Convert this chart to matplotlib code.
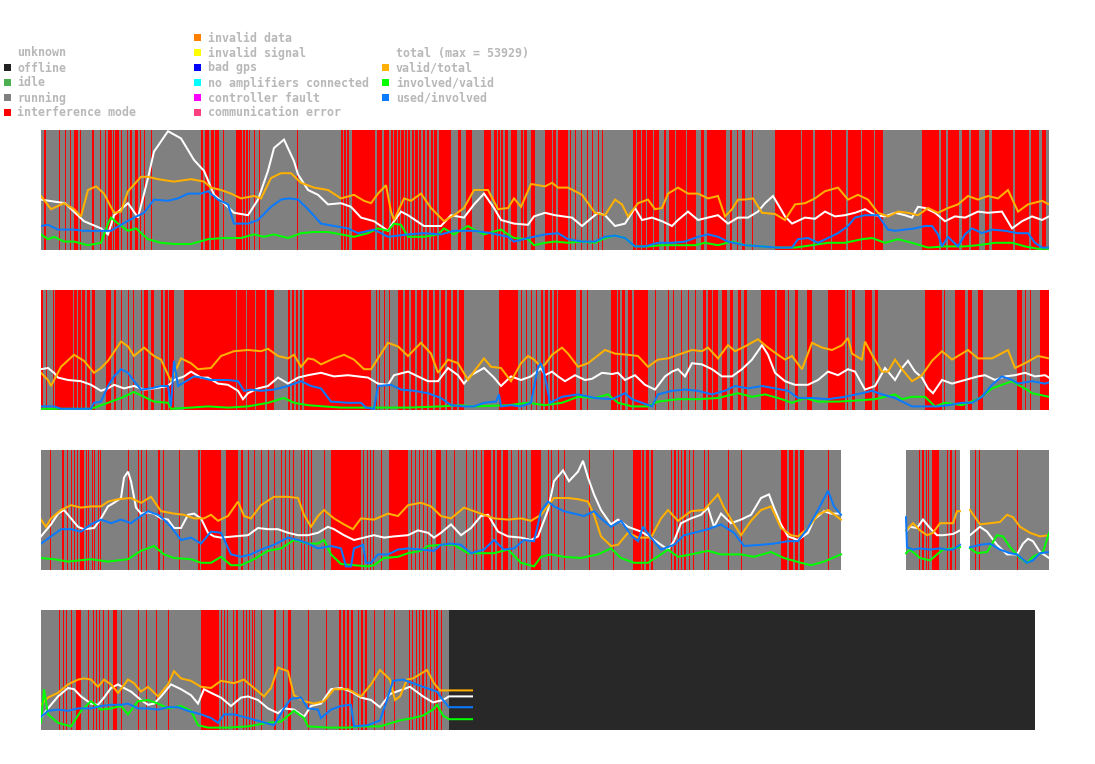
import numpy as np
import matplotlib
matplotlib.use('Agg')
import matplotlib.pyplot as plt
from matplotlib.patches import Rectangle

# ---- data (x = sample offset inside a strip, y = percent) ----

S1_TOTAL = [(0, 42), (24, 39), (43, 24), (60, 18), (67, 13), (73, 29), (87, 39), (97, 27), (107, 60), (113, 82),
            (127, 99), (140, 93), (153, 75), (163, 66), (173, 46), (183, 39), (193, 31), (207, 29), (217, 42),
            (227, 66), (233, 85), (243, 92), (253, 74), (257, 63), (267, 50), (277, 46), (287, 38), (300, 39),
            (310, 36), (320, 27), (333, 24), (347, 16), (353, 24), (360, 32), (367, 29), (383, 20), (400, 20),
            (410, 29), (423, 27), (433, 38), (443, 47), (453, 35), (460, 25), (473, 22), (487, 21), (493, 28),
            (504, 31), (514, 29), (531, 27), (541, 20), (551, 27), (557, 31), (564, 29), (574, 20), (584, 22),
            (594, 35), (601, 25), (611, 27), (621, 24), (631, 20), (637, 25), (647, 32), (657, 25), (667, 27),
            (677, 29), (687, 22), (697, 27), (707, 27), (717, 32), (724, 39), (732, 45), (737, 38), (744, 28),
            (751, 22), (764, 27), (774, 26), (784, 32), (794, 28), (804, 29), (814, 31), (824, 34), (834, 29),
            (844, 28), (854, 31), (864, 29), (871, 27), (877, 36), (884, 35), (894, 31), (904, 24), (914, 28),
            (924, 27), (937, 32), (947, 31), (961, 32), (971, 18), (981, 24), (991, 28), (1001, 25), (1008, 28)]
S1_VALID = [(0, 45), (10, 34), (23, 39), (33, 34), (40, 28), (47, 50), (55, 53), (63, 47), (73, 31), (80, 32),
            (87, 49), (100, 61), (107, 61), (117, 59), (133, 57), (150, 59), (163, 57), (170, 52), (180, 50),
            (190, 47), (200, 43), (213, 45), (220, 43), (230, 60), (240, 64), (250, 64), (260, 56), (273, 52),
            (287, 50), (300, 43), (313, 46), (323, 41), (330, 39), (337, 47), (345, 54), (350, 32), (353, 25),
            (363, 43), (370, 41), (380, 47), (390, 35), (403, 24), (413, 29), (423, 35), (433, 50), (447, 50),
            (457, 34), (467, 35), (473, 43), (480, 36), (490, 55), (504, 53), (511, 56), (517, 52), (527, 52),
            (534, 49), (541, 46), (554, 31), (564, 29), (574, 42), (581, 38), (587, 28), (597, 39), (607, 42),
            (614, 34), (621, 35), (627, 47), (637, 52), (647, 47), (657, 47), (667, 43), (677, 45), (684, 28),
            (691, 34), (697, 42), (704, 42), (712, 43), (721, 31), (734, 30), (744, 25), (754, 38), (764, 39),
            (774, 43), (784, 49), (797, 52), (807, 42), (817, 46), (827, 42), (837, 31), (847, 28), (857, 32),
            (867, 31), (877, 29), (887, 35), (897, 31), (907, 35), (917, 38), (927, 45), (937, 42), (947, 45),
            (957, 43), (967, 50), (977, 32), (987, 38), (1001, 41), (1008, 38)]
S1_INVOLVED = [(0, 13), (7, 9), (13, 11), (23, 7), (33, 7), (47, 4), (60, 6), (67, 22), (70, 27), (77, 22),
               (87, 16), (95, 18), (107, 9), (120, 6), (133, 5), (150, 5), (167, 9), (183, 10), (200, 10),
               (213, 13), (223, 11), (233, 13), (247, 10), (260, 14), (273, 15), (287, 15), (300, 13), (313, 11),
               (327, 14), (337, 18), (347, 16), (353, 22), (360, 21), (367, 11), (383, 11), (397, 13), (403, 18),
               (413, 13), (427, 20), (433, 17), (443, 13), (460, 17), (467, 13), (473, 10), (487, 9), (493, 4),
               (504, 6), (514, 7), (527, 6), (541, 7), (554, 6), (564, 10), (574, 12), (584, 10), (594, 3),
               (607, 3), (621, 4), (637, 4), (654, 4), (664, 6), (677, 4), (691, 7), (704, 4), (721, 3), (737, 2),
               (754, 2), (771, 4), (787, 6), (804, 6), (821, 9), (831, 10), (844, 6), (857, 9), (871, 6),
               (887, 2), (904, 3), (924, 3), (937, 4), (954, 6), (971, 6), (984, 3), (997, 1), (1008, 1)]
S1_USED = [(0, 20), (7, 21), (17, 17), (33, 17), (43, 16), (57, 16), (70, 16), (80, 21), (93, 27), (103, 31),
           (113, 42), (127, 41), (137, 43), (147, 47), (160, 47), (167, 49), (177, 42), (187, 38), (193, 22),
           (207, 22), (217, 25), (230, 36), (240, 42), (248, 43), (257, 42), (267, 34), (280, 22), (293, 20),
           (307, 18), (317, 14), (333, 17), (347, 11), (367, 13), (383, 14), (400, 13), (413, 16), (433, 16),
           (450, 14), (467, 11), (473, 7), (487, 10), (504, 13), (517, 14), (527, 9), (541, 7), (554, 7),
           (564, 11), (574, 12), (584, 10), (594, 3), (604, 3), (617, 6), (631, 6), (644, 7), (657, 11),
           (667, 13), (677, 11), (687, 7), (704, 4), (721, 3), (737, 2), (751, 2), (757, 9), (767, 10), (777, 6),
           (787, 10), (797, 14), (807, 20), (814, 27), (824, 29), (837, 29), (847, 17), (854, 16), (864, 17),
           (874, 18), (884, 20), (891, 20), (897, 13), (901, 3), (907, 11), (917, 3), (924, 13), (931, 18),
           (941, 14), (951, 17), (964, 16), (977, 14), (987, 14), (994, 6), (1001, 2), (1008, 2)]

S2_TOTAL = [(0, 34), (7, 35), (13, 31), (17, 27), (27, 25), (40, 24), (50, 21), (60, 16), (67, 18), (73, 21),
            (83, 18), (93, 20), (103, 17), (113, 18), (127, 20), (133, 25), (143, 28), (150, 32), (160, 27),
            (167, 27), (177, 22), (187, 21), (197, 16), (202, 9), (207, 14), (217, 18), (227, 20), (237, 27),
            (247, 22), (257, 27), (267, 29), (280, 31), (293, 28), (307, 29), (317, 28), (327, 27), (337, 22),
            (347, 21), (353, 29), (367, 32), (377, 28), (387, 24), (397, 24), (407, 35), (417, 29), (423, 22),
            (430, 29), (443, 35), (453, 27), (460, 20), (470, 28), (480, 25), (490, 28), (500, 35), (504, 29),
            (511, 32), (517, 28), (524, 24), (534, 29), (544, 25), (551, 26), (561, 31), (571, 30), (577, 31),
            (584, 25), (594, 29), (604, 21), (614, 17), (624, 28), (631, 32), (637, 34), (644, 28), (651, 39),
            (661, 38), (671, 34), (681, 28), (691, 28), (701, 34), (711, 42), (721, 54), (727, 46), (734, 31),
            (744, 24), (754, 21), (767, 21), (777, 25), (787, 32), (797, 29), (807, 34), (814, 32), (824, 17),
            (834, 20), (844, 35), (854, 25), (861, 35), (867, 41), (874, 32), (881, 27), (887, 18), (892, 14),
            (901, 25), (911, 22), (924, 25), (937, 28), (944, 29), (954, 25), (964, 28), (974, 29), (984, 31),
            (994, 28), (1004, 29), (1008, 27)]
S2_VALID = [(0, 31), (7, 25), (10, 20), (20, 36), (33, 46), (43, 41), (53, 31), (60, 35), (67, 41), (80, 57),
            (87, 53), (93, 45), (103, 52), (113, 45), (120, 42), (130, 24), (140, 43), (150, 39), (157, 34),
            (170, 35), (180, 45), (193, 49), (207, 50), (220, 49), (227, 51), (237, 45), (247, 43), (253, 46),
            (260, 36), (267, 43), (273, 42), (280, 38), (293, 43), (303, 46), (313, 42), (323, 34), (330, 34),
            (337, 43), (347, 56), (357, 53), (367, 45), (380, 56), (390, 47), (397, 31), (407, 42), (417, 39),
            (427, 25), (433, 32), (443, 43), (450, 36), (460, 35), (470, 24), (480, 39), (487, 45), (493, 42),
            (500, 36), (504, 38), (511, 46), (521, 52), (527, 47), (537, 36), (547, 39), (564, 50), (574, 47),
            (587, 46), (597, 45), (607, 36), (617, 42), (627, 43), (637, 46), (651, 50), (661, 49), (667, 52),
            (677, 43), (687, 54), (694, 49), (704, 53), (717, 59), (727, 52), (737, 46), (744, 42), (751, 45),
            (761, 34), (771, 56), (781, 52), (791, 50), (801, 54), (807, 60), (811, 47), (821, 42), (824, 57),
            (831, 46), (841, 32), (847, 32), (854, 42), (861, 34), (871, 24), (881, 29), (891, 41), (901, 49),
            (911, 42), (927, 50), (937, 43), (951, 43), (967, 50), (974, 35), (984, 39), (997, 45), (1008, 43)]
S2_INVOLVED = [(0, 1), (50, 1), (57, 3), (67, 6), (80, 10), (93, 15), (103, 11), (113, 7), (127, 6), (130, 1),
               (150, 2), (167, 3), (187, 2), (207, 3), (227, 6), (243, 10), (253, 6), (267, 4), (283, 3),
               (300, 2), (333, 2), (367, 2), (400, 3), (420, 4), (433, 3), (467, 4), (487, 6), (504, 4),
               (521, 6), (537, 11), (554, 10), (567, 13), (577, 6), (591, 3), (607, 3), (617, 7), (637, 9),
               (657, 9), (677, 10), (697, 14), (711, 11), (724, 13), (737, 10), (751, 6), (764, 10), (777, 7),
               (797, 7), (817, 8), (834, 9), (854, 13), (861, 9), (871, 11), (884, 11), (894, 3), (904, 6),
               (921, 4), (937, 9), (951, 18), (961, 21), (971, 24), (977, 21), (984, 18), (991, 14), (1008, 11)]
S2_USED = [(0, 3), (13, 3), (20, 1), (50, 1), (53, 6), (60, 7), (67, 20), (73, 28), (80, 34), (87, 31), (93, 24),
           (100, 17), (110, 18), (120, 20), (127, 20), (130, 3), (133, 41), (137, 20), (147, 25), (153, 28),
           (160, 27), (170, 25), (187, 25), (197, 24), (203, 16), (210, 17), (220, 16), (233, 17), (247, 20),
           (260, 24), (270, 20), (280, 18), (290, 7), (307, 6), (320, 6), (325, 2), (333, 1), (337, 20),
           (350, 21), (360, 17), (373, 16), (387, 14), (400, 10), (410, 4), (423, 3), (433, 3), (443, 6),
           (455, 7), (458, 13), (460, 3), (470, 4), (480, 3), (490, 6), (497, 36), (500, 39), (504, 28),
           (509, 6), (521, 11), (537, 13), (554, 10), (571, 9), (584, 14), (591, 9), (601, 6), (611, 3),
           (617, 13), (631, 16), (644, 17), (657, 16), (671, 13), (684, 16), (694, 20), (707, 18), (721, 20),
           (734, 18), (747, 16), (757, 10), (771, 10), (787, 9), (804, 11), (821, 14), (831, 16), (841, 13),
           (854, 10), (871, 3), (887, 3), (897, 3), (907, 4), (921, 6), (931, 6), (941, 11), (951, 21),
           (961, 28), (971, 25), (977, 22), (991, 24), (1004, 22), (1008, 23)]

S3_TOTAL = [(0, 28), (10, 38), (17, 47), (23, 50), (30, 43), (37, 36), (43, 34), (53, 35), (60, 43), (67, 53),
            (73, 56), (80, 60), (83, 77), (87, 82), (90, 74), (95, 52), (100, 47), (107, 48), (113, 47),
            (120, 43), (127, 42), (133, 35), (140, 35), (147, 46), (153, 47), (160, 43), (167, 31), (173, 28),
            (180, 27), (193, 28), (207, 29), (217, 35), (227, 34), (237, 34), (247, 31), (257, 29), (267, 29),
            (277, 31), (287, 36), (293, 34), (303, 29), (313, 25), (323, 27), (333, 29), (343, 27), (353, 28),
            (367, 29), (377, 33), (387, 31), (393, 27), (400, 31), (410, 38), (420, 29), (430, 35), (440, 45),
            (447, 46), (457, 32), (467, 28), (480, 27), (490, 25), (497, 28), (507, 50), (513, 74), (522, 83),
            (528, 74), (537, 82), (542, 91), (547, 77), (553, 63), (560, 50), (570, 38), (577, 42), (587, 36),
            (600, 32), (610, 27), (620, 21), (627, 17), (633, 24), (640, 39), (650, 43), (660, 46), (667, 52),
            (673, 36), (680, 47), (690, 39), (700, 42), (710, 46), (720, 60), (728, 63), (733, 52), (740, 38),
            (747, 28), (757, 25), (767, 31), (773, 42), (783, 49), (790, 47), (800, 47),
            (865, 32), (869, 36), (876, 35), (882, 42), (889, 35), (896, 29), (902, 29), (912, 30), (919, 33),
            (929, 29), (939, 36), (946, 32), (956, 21), (966, 13), (976, 13), (982, 22), (987, 26), (992, 24),
            (999, 15), (1008, 10)]
S3_VALID = [(0, 42), (5, 36), (10, 43), (20, 50), (30, 54), (40, 52), (50, 53), (60, 53), (67, 57), (77, 59),
            (90, 60), (100, 56), (110, 61), (120, 49), (133, 47), (143, 46), (153, 43), (163, 43), (170, 46),
            (177, 41), (187, 45), (197, 57), (203, 45), (210, 43), (220, 54), (233, 61), (247, 61), (257, 60),
            (263, 46), (270, 36), (277, 45), (283, 50), (293, 43), (303, 38), (312, 34), (320, 43), (333, 42),
            (347, 47), (357, 45), (367, 54), (380, 56), (390, 53), (400, 45), (410, 43), (423, 52), (433, 49),
            (443, 46), (453, 43), (467, 42), (480, 43), (490, 41), (500, 46), (513, 60), (527, 60), (537, 59),
            (547, 57), (553, 46), (560, 28), (570, 20), (577, 21), (587, 31), (597, 27), (610, 27), (620, 43),
            (627, 50), (637, 41), (650, 49), (663, 50), (677, 63), (683, 52), (693, 38), (700, 29), (710, 41),
            (720, 50), (730, 53), (740, 35), (750, 29), (757, 28), (767, 35), (777, 46), (787, 50), (800, 42),
            (865, 33), (872, 39), (879, 33), (886, 29), (892, 31), (899, 39), (906, 39), (912, 39), (916, 49),
            (919, 49), (929, 50), (939, 38), (949, 39), (959, 40), (966, 46), (972, 44), (979, 36), (989, 31),
            (999, 28), (1008, 29)]
S3_INVOLVED = [(0, 10), (13, 9), (27, 7), (50, 9), (67, 7), (87, 9), (100, 16), (113, 20), (123, 13), (133, 10),
               (150, 9), (160, 6), (170, 6), (180, 11), (190, 4), (200, 4), (213, 9), (227, 16), (240, 18),
               (253, 25), (267, 22), (277, 22), (283, 25), (290, 13), (300, 5), (313, 4), (327, 3), (333, 4),
               (343, 10), (357, 11), (367, 14), (380, 16), (387, 20), (400, 21), (413, 21), (427, 14), (440, 14),
               (453, 14), (467, 17), (480, 6), (493, 3), (500, 11), (510, 13), (523, 11), (540, 10), (557, 13),
               (570, 18), (580, 10), (593, 6), (607, 6), (620, 13), (627, 17), (637, 11), (650, 13), (667, 16),
               (680, 13), (700, 13), (713, 11), (730, 15), (743, 10), (760, 6), (770, 4), (783, 7), (800, 13),
               (865, 14), (869, 17), (879, 10), (889, 8), (896, 13), (902, 17), (912, 18), (919, 19),
               (929, 18), (936, 14), (946, 15), (956, 29), (962, 28), (969, 19), (979, 10), (986, 6), (992, 11),
               (1002, 15), (1008, 31)]
S3_USED = [(0, 22), (10, 28), (20, 34), (30, 34), (40, 32), (50, 38), (60, 42), (70, 39), (80, 42), (90, 39),
           (100, 45), (107, 49), (117, 46), (123, 42), (130, 36), (140, 25), (150, 27), (160, 22), (170, 32),
           (180, 31), (190, 13), (200, 11), (210, 13), (220, 17), (233, 21), (247, 27), (257, 25), (267, 22),
           (277, 18), (290, 20), (300, 18), (305, 3), (310, 3), (313, 18), (322, 21), (325, 6), (330, 6),
           (337, 13), (347, 13), (357, 17), (367, 18), (380, 17), (393, 16), (400, 21), (410, 22), (420, 21),
           (430, 14), (443, 17), (453, 25), (463, 17), (473, 18), (483, 25), (493, 24), (495, 31), (500, 49),
           (507, 57), (513, 53), (523, 49), (533, 47), (543, 45), (553, 49), (560, 43), (570, 36), (580, 41),
           (590, 29), (597, 24), (602, 36), (610, 27), (620, 17), (633, 21), (643, 29), (653, 31), (667, 34),
           (680, 38), (693, 31), (703, 20), (720, 21), (733, 22), (747, 24), (757, 24), (767, 35), (777, 50),
           (787, 66), (793, 53), (800, 46),
           (865, 44), (866, 19), (872, 17), (879, 18), (889, 17), (899, 18), (906, 17), (912, 17), (919, 21),
           (929, 19), (939, 21), (949, 22), (959, 17), (969, 14), (976, 13), (986, 6), (992, 8), (999, 14),
           (1008, 15)]

S4_TOTAL = [(0, 10), (7, 18), (17, 28), (27, 35), (33, 34), (40, 28), (50, 22), (57, 21), (63, 27), (70, 35),
            (77, 38), (83, 35), (90, 32), (100, 25), (107, 21), (113, 22), (120, 28), (130, 38), (140, 34),
            (150, 29), (157, 22), (163, 34), (170, 31), (180, 27), (190, 20), (200, 27), (207, 28), (217, 25),
            (227, 18), (237, 14), (243, 18), (253, 17), (263, 11), (270, 20), (280, 22), (290, 34), (300, 35),
            (310, 32), (320, 27), (330, 25), (339, 19), (349, 30), (359, 33), (369, 36), (382, 28), (392, 23),
            (402, 25), (408, 28), (431, 28)]
S4_VALID = [(0, 21), (7, 27), (17, 31), (27, 38), (37, 42), (43, 43), (50, 42), (57, 36), (63, 42), (70, 38),
            (77, 31), (87, 42), (93, 39), (100, 32), (107, 36), (117, 28), (127, 38), (133, 49), (140, 43),
            (150, 41), (160, 36), (170, 35), (180, 41), (193, 39), (203, 42), (213, 35), (223, 28), (230, 35),
            (237, 52), (247, 49), (253, 29), (263, 24), (273, 22), (283, 24), (293, 34), (307, 34), (320, 28),
            (330, 38), (339, 50), (349, 42), (354, 25), (359, 28), (366, 42), (372, 43), (386, 50), (393, 39),
            (399, 33), (408, 33), (431, 33)]
S4_INVOLVED = [(0, 6), (3, 34), (7, 13), (17, 6), (30, 3), (40, 16), (50, 24), (60, 17), (70, 18), (80, 20),
               (87, 13), (97, 24), (107, 25), (117, 22), (127, 18), (140, 20), (150, 16), (157, 4), (167, 2),
               (187, 2), (207, 3), (227, 6), (240, 7), (253, 16), (263, 10), (267, 3), (287, 2), (307, 2),
               (320, 3), (339, 3), (359, 8), (372, 10), (382, 12), (392, 17), (396, 21), (402, 12), (408, 9),
               (431, 9)]
S4_USED = [(0, 11), (7, 16), (17, 17), (27, 16), (37, 18), (50, 18), (60, 20), (70, 21), (80, 21), (87, 22),
           (97, 18), (107, 18), (117, 17), (127, 19), (137, 19), (147, 16), (160, 13), (170, 10), (177, 6),
           (183, 13), (193, 13), (207, 10), (220, 7), (233, 4), (243, 18), (250, 26), (260, 27), (267, 18),
           (277, 17), (280, 10), (290, 17), (300, 20), (310, 21), (313, 3), (327, 4), (339, 8), (346, 25),
           (352, 41), (362, 42), (372, 39), (382, 36), (396, 32), (402, 25), (408, 19), (431, 19)]

# interference mode intervals (start, end)
S1_INTERF = [(3, 5), (18, 19), (24, 25), (29, 30), (33, 37), (39, 40), (51, 53), (59, 60), (64, 65), (67, 71),
             (72, 73), (74, 78), (80, 81), (86, 87), (89, 91), (94, 97), (99, 100), (103, 104), (110, 111),
             (160, 162), (164, 168), (170, 173), (174, 178), (182, 183), (195, 201), (202, 204), (205, 207),
             (208, 209), (213, 214), (218, 219), (256, 257), (300, 302), (303, 305), (306, 308), (311, 334),
             (336, 341), (343, 348), (350, 352), (353, 356), (357, 359), (360, 363), (364, 366), (367, 369),
             (371, 373), (374, 377), (378, 380), (382, 384), (386, 388), (390, 392), (393, 396), (398, 410),
             (417, 420), (425, 431), (443, 450), (453, 456), (457, 459), (460, 462), (464, 467), (470, 476),
             (480, 482), (483, 486), (490, 494), (504, 511), (512, 515), (517, 527), (529, 530), (534, 535),
             (540, 541), (546, 547), (551, 552), (557, 558), (561, 562), (592, 595), (596, 600), (601, 605),
             (606, 612), (613, 618), (623, 625), (628, 634), (635, 645), (646, 655), (660, 663), (666, 685),
             (689, 691), (696, 697), (701, 704), (711, 712), (734, 760), (761, 772), (774, 790), (791, 805),
             (807, 820), (821, 833), (834, 842), (881, 898), (900, 905), (907, 918), (921, 928), (930, 938),
             (944, 948), (951, 972), (974, 988), (990, 998), (1001, 1005)]
S2_INTERF = [(0, 2), (5, 6), (12, 13), (14, 32), (33, 36), (37, 40), (41, 44), (46, 49), (51, 54), (65, 70),
             (73, 75), (80, 81), (87, 88), (92, 93), (100, 101), (103, 107), (110, 113), (120, 122), (124, 127),
             (128, 133), (143, 195), (196, 205), (206, 214), (215, 224), (226, 233), (247, 249), (251, 253),
             (255, 257), (259, 261), (263, 330), (335, 336), (338, 339), (343, 344), (348, 349), (357, 362),
             (364, 368), (370, 374), (376, 380), (382, 386), (388, 392), (394, 398), (400, 404), (406, 410),
             (412, 416), (418, 423), (458, 477), (480, 481), (485, 486), (490, 491), (495, 496), (500, 502),
             (504, 507), (509, 511), (513, 516), (517, 535), (539, 541), (546, 547), (570, 576), (577, 579),
             (581, 584), (587, 591), (593, 607), (614, 615), (627, 628), (632, 633), (640, 641), (647, 648),
             (654, 655), (662, 665), (667, 671), (672, 677), (681, 686), (689, 692), (697, 700), (703, 706),
             (720, 734), (736, 744), (747, 748), (754, 757), (766, 771), (787, 804), (806, 807), (811, 814),
             (824, 831), (834, 837), (884, 901), (903, 904), (914, 924), (927, 931), (937, 942), (976, 981),
             (984, 985), (989, 990), (999, 1008)]
S3_INTERF = [(9, 10), (21, 23), (26, 27), (30, 31), (33, 34), (36, 37), (39, 43), (45, 46), (47, 48), (51, 52),
             (53, 54), (57, 58), (59, 60), (87, 88), (97, 98), (100, 101), (105, 106), (117, 119), (122, 123),
             (138, 139), (157, 159), (160, 180), (185, 197), (200, 202), (207, 208), (213, 214), (220, 221),
             (227, 228), (233, 234), (240, 241), (244, 245), (248, 249), (252, 253), (260, 261), (263, 264),
             (267, 268), (270, 271), (283, 284), (290, 320), (322, 323), (326, 327), (329, 330), (332, 333),
             (340, 341), (348, 367), (370, 371), (374, 375), (378, 379), (382, 383), (386, 387), (390, 391),
             (395, 400), (405, 406), (413, 414), (425, 426), (432, 433), (435, 436), (440, 441), (443, 450),
             (452, 454), (456, 460), (462, 467), (470, 471), (477, 478), (480, 481), (485, 486), (490, 500),
             (507, 508), (510, 511), (517, 518), (523, 524), (548, 549), (572, 573), (592, 600), (601, 603),
             (605, 608), (610, 612), (630, 631), (633, 635), (637, 638), (640, 641), (643, 645), (648, 649),
             (652, 653), (663, 664), (667, 668), (687, 688), (700, 701), (740, 746), (748, 752), (754, 757),
             (759, 763), (787, 788), (878, 879), (881, 883), (885, 886), (887, 888), (891, 898), (906, 907),
             (909, 911), (914, 915), (934, 935), (938, 939), (976, 977)]
S4_INTERF = [(18, 19), (22, 23), (25, 26), (30, 31), (35, 40), (47, 48), (52, 53), (55, 56), (58, 59), (62, 63),
             (67, 68), (72, 76), (80, 81), (97, 98), (105, 106), (115, 116), (127, 128), (160, 178), (180, 181),
             (183, 184), (186, 187), (192, 193), (195, 197), (202, 203), (205, 206), (208, 209), (211, 212),
             (213, 214), (220, 221), (233, 235), (242, 243), (247, 250), (267, 268), (285, 286), (298, 300),
             (302, 304), (306, 308), (310, 312), (317, 318), (320, 322), (324, 326), (333, 334), (343, 344),
             (353, 354), (368, 369), (371, 372), (375, 376), (378, 379), (381, 383), (385, 386), (389, 390),
             (393, 394), (395, 397), (400, 401)]

# offline periods
S1_OFFLINE = []
S2_OFFLINE = []
S3_OFFLINE = []
S4_OFFLINE = [(408, 994)]

# periods with data (running)
S1_RUNNING = [(0, 1008)]
S2_RUNNING = [(0, 1008)]
S3_RUNNING = [(0, 800), (865, 919), (929, 1008)]
S4_RUNNING = [(0, 408)]
S4_LINE_SPANS = [(0, 431)]

LEGEND_STATES = [('unknown', None), ('offline', '#222222'), ('idle', '#4caf50'), ('running', '#808080'),
                 ('interference mode', '#ff0000')]
LEGEND_ERRORS = [('invalid data', '#ff8000'), ('invalid signal', '#ffff00'), ('bad gps', '#0000ff'),
                 ('no amplifiers connected', '#00ffff'), ('controller fault', '#ff00ff'),
                 ('communication error', '#ff4080')]
LEGEND_RATIOS = [('total (max = 53929)', None), ('valid/total', '#ffb000'), ('involved/valid', '#00ff00'),
                 ('used/involved', '#0a7aff')]

# ---- layout ----
W, H = 1095, 764
STRIP_LEFT = 41
STRIP_WIDTH = 1008
STRIP_HEIGHT = 120
STRIP_TOPS = [130, 290, 450, 610]

LINE_COLORS = ['#ffffff', '#ffb000', '#00ff00', '#0a7aff']


def box(x, y, w, h):
    return [x / W, 1 - (y + h) / H, w / W, h / H]


def spans_to_bars(spans):
    return [(s, e - s) for s, e in spans]


def plot_series(ax, points, spans, color):
    pts = np.array(points, dtype=float)
    for s, e in spans:
        m = (pts[:, 0] >= s) & (pts[:, 0] <= e)
        ax.plot(pts[m, 0], pts[m, 1], color=color, lw=1.45, solid_joinstyle='miter')


def plot_states(ax, spans, color):
    if spans:
        ax.broken_barh(spans_to_bars(spans), (0, 100), facecolors=color,
                       edgecolors='none', linewidths=0, antialiased=False)


def plot_strip(fig, top, running, interf, offline, series, line_spans):
    ax = fig.add_axes(box(STRIP_LEFT, top, STRIP_WIDTH, STRIP_HEIGHT))
    ax.set_xlim(0, STRIP_WIDTH)
    ax.set_ylim(0, 100)
    ax.axis('off')
    plot_states(ax, running, '#808080')
    plot_states(ax, interf, '#ff0000')
    plot_states(ax, offline, '#282828')
    for pts, color in zip(series, LINE_COLORS):
        plot_series(ax, pts, line_spans, color)


def plot_legend(fig, items, x_marker, x_text, y_first):
    for i, (label, color) in enumerate(items):
        y = y_first + 15 * i
        if color is not None:
            fig.add_artist(Rectangle((x_marker / W, 1 - (y + 4) / H), 7 / W, 7 / H,
                                     transform=fig.transFigure, facecolor=color, lw=0))
        fig.text(x_text / W, 1 - (y + 1) / H, label, ha='left', va='center', color='#b8b8b8',
                 family='DejaVu Sans Mono', weight='bold', size=8.4)


def main():
    fig = plt.figure(figsize=(W / 100, H / 100), dpi=100)
    fig.patch.set_facecolor('white')

    plot_legend(fig, LEGEND_STATES, 4, 17, 52)
    plot_legend(fig, LEGEND_ERRORS, 194, 208, 37)
    plot_legend(fig, LEGEND_RATIOS, 382, 396, 52)

    plot_strip(fig, STRIP_TOPS[0], S1_RUNNING, S1_INTERF, S1_OFFLINE,
               [S1_TOTAL, S1_VALID, S1_INVOLVED, S1_USED], S1_RUNNING)
    plot_strip(fig, STRIP_TOPS[1], S2_RUNNING, S2_INTERF, S2_OFFLINE,
               [S2_TOTAL, S2_VALID, S2_INVOLVED, S2_USED], S2_RUNNING)
    plot_strip(fig, STRIP_TOPS[2], S3_RUNNING, S3_INTERF, S3_OFFLINE,
               [S3_TOTAL, S3_VALID, S3_INVOLVED, S3_USED], S3_RUNNING)
    plot_strip(fig, STRIP_TOPS[3], S4_RUNNING, S4_INTERF, S4_OFFLINE,
               [S4_TOTAL, S4_VALID, S4_INVOLVED, S4_USED], S4_LINE_SPANS)

    fig.savefig('out.png', dpi=100)


main()
